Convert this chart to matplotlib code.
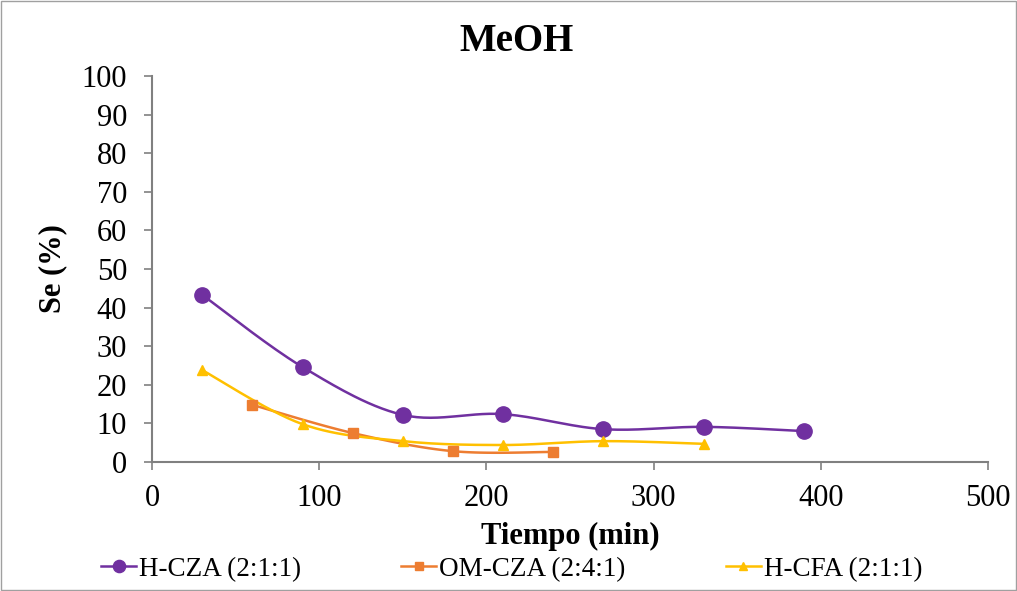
import numpy as np
import matplotlib.pyplot as plt
from matplotlib.patches import Rectangle

plt.rcParams["font.family"] = ["Liberation Serif", "DejaVu Serif"]

# data
t_hcza = [30, 90, 150, 210, 270, 330, 390]
se_hcza = [43.3, 24.6, 12.2, 12.4, 8.5, 9.1, 8.0]
t_omcza = [60, 120, 180, 240]
se_omcza = [14.8, 7.5, 2.8, 2.6]
t_hcfa = [30, 90, 150, 210, 270, 330]
se_hcfa = [23.8, 9.8, 5.4, 4.4, 5.4, 4.7]

labels = ["H-CZA (2:1:1)", "OM-CZA (2:4:1)", "H-CFA (2:1:1)"]
colors = ["#7030A0", "#ED7D31", "#FFC000"]
markers = ["o", "s", "^"]
msizes = [11, 7, 7.5]


def smooth(x, y, n=30):
    # Excel-style smoothed line: cubic Bezier through the points
    x = np.asarray(x, float)
    y = np.asarray(y, float)
    pts = np.column_stack([x, y])
    out = [pts[0]]
    for i in range(len(pts) - 1):
        p0 = pts[i - 1] if i > 0 else pts[i]
        p1 = pts[i]
        p2 = pts[i + 1]
        p3 = pts[i + 2] if i + 2 < len(pts) else pts[i + 1]
        c1 = p1 + (p2 - p0) / 6
        c2 = p2 - (p3 - p1) / 6
        s = np.linspace(0, 1, n)[1:, None]
        seg = ((1 - s) ** 3) * p1 + 3 * ((1 - s) ** 2) * s * c1 + 3 * (1 - s) * s ** 2 * c2 + s ** 3 * p2
        out.extend(seg)
    out = np.array(out)
    return out[:, 0], out[:, 1]


fig = plt.figure(figsize=(10.17, 5.91), dpi=100)
ax = fig.add_axes([0.1495, 0.2183, 0.822, 0.6531])

handles = []
for x, y, c, m, ms, lab in zip([t_hcza, t_omcza, t_hcfa], [se_hcza, se_omcza, se_hcfa],
                               colors, markers, msizes, labels):
    sx, sy = smooth(x, y)
    ax.plot(sx, sy, color=c, lw=1.8, zorder=2)
    ax.plot(x, y, ls="none", marker=m, ms=ms, color=c, zorder=3)
    h, = ax.plot([], [], color=c, lw=1.8, marker=m, ms=ms, label=lab)
    handles.append(h)

ax.set_xlim(0, 500)
ax.set_ylim(0, 100)
ax.set_xticks(range(0, 501, 100))
ax.set_yticks(range(0, 101, 10))
ax.tick_params(labelsize=22, direction="out", length=6, color="#808080", width=1.2)
ax.tick_params(axis="x", pad=10)
ax.tick_params(axis="y", pad=12)
for side in ["top", "right"]:
    ax.spines[side].set_visible(False)
for side in ["left", "bottom"]:
    ax.spines[side].set_color("#808080")
    ax.spines[side].set_linewidth(1.5)

ax.set_xlabel("Tiempo (min)", fontsize=22, fontweight="bold", labelpad=6)
ax.set_ylabel("Se (%)", fontsize=22, fontweight="bold", labelpad=10)
fig.text(0.5075, 0.93, "MeOH", ha="center", va="center", fontsize=28, fontweight="bold")

fig.legend(handles=handles, loc="center", bbox_to_anchor=(0.503, 0.037), ncol=3,
           frameon=False, fontsize=19.5, handlelength=1.3, handletextpad=0.1,
           columnspacing=3.7, markerscale=0.8)

fig.patches.append(Rectangle((0.001, 0.001), 0.998, 0.998, transform=fig.transFigure,
                             fill=False, edgecolor="#A0A0A0", lw=1))

fig.savefig("out.png", dpi=100)
